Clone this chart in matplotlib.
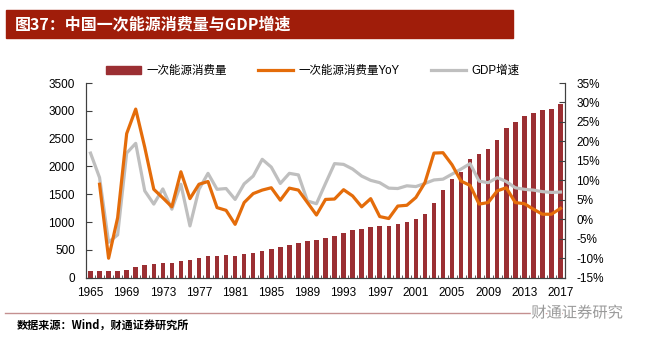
import matplotlib
matplotlib.use("Agg")
import matplotlib.pyplot as plt
import matplotlib.patheffects as pe
from matplotlib.patches import Rectangle
from matplotlib.lines import Line2D
import numpy as np

plt.rcParams['font.family'] = ['Liberation Sans', 'Noto Sans CJK SC']

years = list(range(1965, 2018))
energy = [115, 126, 115, 115, 144, 192, 228, 246, 259, 270, 300, 318, 354, 390, 396, 408, 396, 420,
          444, 480, 522, 547, 588, 630, 666, 673, 709, 745, 799, 853, 876, 917, 925, 926, 960, 996,
          1050, 1146, 1344, 1572, 1781, 1907, 2135, 2219, 2320, 2482, 2692, 2800, 2903, 2962, 3011,
          3040, 3130]
energy_yoy = [None, 9.0, -10.0, 0.4, 22.0, 28.3, 18.5, 7.7, 5.5, 3.2, 12.2, 5.3, 9.0, 9.7, 3.0, 2.3,
              -1.3, 4.3, 6.6, 7.5, 8.1, 4.9, 8.0, 7.5, 4.3, 1.1, 5.1, 5.2, 7.6, 6.0, 3.2, 5.3, 0.7,
              0.2, 3.4, 3.6, 5.6, 9.4, 17.0, 17.1, 14.0, 9.8, 8.7, 3.9, 4.3, 7.3, 8.1, 4.3, 4.0, 2.6,
              1.3, 1.3, 2.8]
gdp_growth = [17.0, 10.7, -5.9, -4.0, 17.0, 19.5, 7.3, 3.9, 7.8, 2.6, 9.0, -1.7, 7.7, 11.8, 7.7, 7.9,
              5.1, 9.1, 11.1, 15.4, 13.4, 9.2, 11.8, 11.4, 4.7, 4.0, 9.2, 14.3, 14.1, 12.9, 11.1, 10.0,
              9.4, 8.0, 7.9, 8.6, 8.4, 9.2, 10.1, 10.3, 11.6, 12.9, 14.3, 9.8, 9.4, 10.7, 9.7, 8.1,
              7.7, 7.5, 7.1, 6.9, 7.0]

title = "图37：中国一次能源消费量与GDP增速"
source = "数据来源：Wind，财通证券研究所"
labels = ["一次能源消费量", "一次能源消费量YoY", "GDP增速"]

bar_color = "#9B2F33"
yoy_color = "#E46C0A"
gdp_color = "#BFBFBF"

W, H = 646, 341
fig = plt.figure(figsize=(W / 100, H / 100), dpi=100)

# title bar
fig.patches.append(Rectangle((6 / W, 1 - 38 / H), 507 / W, 28 / H,
                             transform=fig.transFigure, color="#A01D0A", zorder=0))
fig.text(15 / W, 1 - 24 / H, title, color="white", fontsize=11.5, fontweight="bold",
         va="center", ha="left", family=['Noto Sans CJK SC'])

ax = fig.add_axes([86 / W, 1 - 277.7 / H, (565 - 86) / W, (277.7 - 83) / H])
ax2 = ax.twinx()

x = np.arange(len(years))
ax.bar(x, energy, width=0.5, color=bar_color, zorder=2)
ax.set_ylim(0, 3500)
ax.set_yticks(range(0, 3501, 500))
ax.set_xlim(-0.5, len(years) - 0.5)

yoy = np.array([np.nan if v is None else v for v in energy_yoy], dtype=float)
ax2.plot(x, gdp_growth, color=gdp_color, lw=2.3, zorder=3)
ax2.plot(x, yoy, color=yoy_color, lw=2.3, zorder=4)
ax2.set_ylim(-15, 35)
ax2.set_yticks(range(-15, 36, 5))
ax2.set_yticklabels([f"{v}%" for v in range(-15, 36, 5)])

ax.set_xticks(x[::4])
ax.set_xticklabels([str(y) for y in years[::4]])
ax.set_xticks(np.arange(-0.5, len(years), 1), minor=True)

for a in (ax, ax2):
    a.spines['top'].set_visible(False)
    for s in a.spines.values():
        s.set_color("#404040")
        s.set_linewidth(0.8)
ax.tick_params(axis='y', direction='in', length=4, labelsize=8.5, color="#404040", pad=8)
ax2.tick_params(axis='y', direction='in', length=4, labelsize=8.5, color="#404040", pad=8)
ax.tick_params(axis='x', which='major', length=0, labelsize=8.5, pad=7)
ax.tick_params(axis='x', which='minor', direction='in', length=2.5, color="#404040")

handles = [Rectangle((0, 0), 1, 1, color=bar_color),
           Line2D([], [], color=yoy_color, lw=2.3),
           Line2D([], [], color=gdp_color, lw=2.3)]
fig.legend(handles, labels, loc='center', bbox_to_anchor=(313 / W, 1 - 71 / H), ncol=3,
           frameon=False, fontsize=8.3, handlelength=3.0, handletextpad=0.5,
           columnspacing=2.7, handleheight=0.6)

# footer
fig.add_artist(Line2D([5 / W, 610 / W], [1 - 313 / H, 1 - 313 / H], transform=fig.transFigure,
                      color="#C49090", lw=1.0))
fig.text(17 / W, 1 - 325 / H, source, fontsize=8, fontweight="bold", va="center", ha="left",
         family=['Noto Sans CJK SC'])
fig.text(577 / W, 1 - 313 / H, "财通证券研究", fontsize=11, color="#9A9A9A", va="center",
         ha="center", family=['Noto Sans CJK SC'],
         path_effects=[pe.withStroke(linewidth=2.5, foreground="white")])

fig.savefig("out.png", dpi=100)
